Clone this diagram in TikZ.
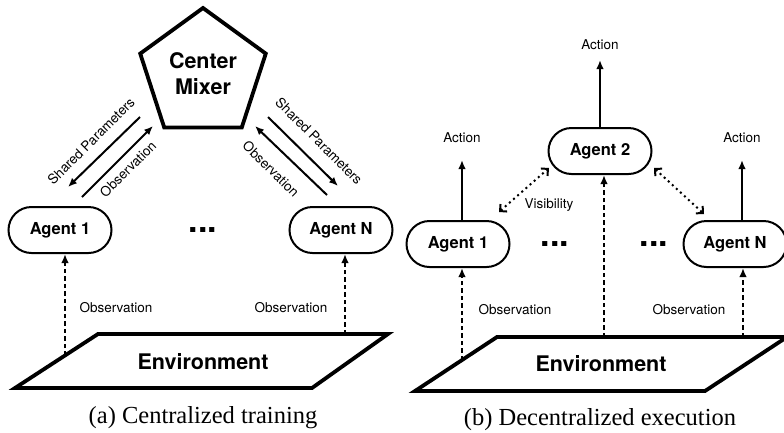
\documentclass[tikz,border=0pt]{standalone}
\usepackage{fontspec}
\setmainfont{TeX Gyre Heros}
\newfontfamily\capfont{Liberation Serif}
\usetikzlibrary{shapes.geometric,arrows.meta}

\begin{document}
\begin{tikzpicture}[x=1pt,y=-1pt,
  agent/.style={draw, line width=2pt, rounded corners=23pt, minimum width=103pt,
    minimum height=46pt, inner sep=0pt, font=\fontsize{16.5}{18}\selectfont\bfseries},
  lbl/.style={font=\fontsize{13.5}{15}\selectfont, inner sep=0pt},
  solidarr/.style={line width=2pt, -{Latex[length=9pt,width=7.5pt]}},
  obsarr/.style={line width=2pt, dash pattern=on 4.5pt off 3pt, -{Latex[length=9pt,width=7.5pt]}},
  visarr/.style={line width=2pt, dash pattern=on 2pt off 3.5pt,
    {Straight Barb[length=5pt,width=10pt,line join=miter]}-{Straight Barb[length=5pt,width=10pt,line join=miter]}},
  dots/.style={font=\fontsize{34}{34}\selectfont\bfseries, inner sep=0pt, anchor=base},
  heavy/.style={line width=3.8pt, line join=miter},
  bigtext/.style={font=\fontsize{21.5}{24}\selectfont\bfseries, inner sep=0pt},
  caption/.style={font=\capfont\fontsize{24.5}{26}\selectfont, inner sep=0pt}
]
\useasboundingbox (0,0) rectangle (784,432);

% ---------------- (a) centralized training ----------------
\node[heavy, draw, regular polygon, regular polygon sides=5, minimum size=132pt,
      inner sep=0pt, align=center, font=\fontsize{21.5}{26}\selectfont\bfseries]
      (mixer) at (203,74) {Center\\Mixer};

\node[agent] (la1) at (60,230) {Agent 1};
\node[agent] (laN) at (341,230) {Agent N};
\node[dots] (ldots) at (203,232) {...};

% environment plate
\coordinate (le1) at (98,334);
\coordinate (le2) at (388,334);
\coordinate (le3) at (312,388);
\coordinate (le4) at (15,388);
\draw[heavy] (le1) -- (le2) -- (le3) -- (le4) -- cycle;
\node[bigtext] (lenv) at (203,362) {Environment};

% mixer <-> agents
\coordinate (lspA) at (140,117);
\coordinate (lspB) at (68,187);
\coordinate (lobA) at (82,197);
\coordinate (lobB) at (153,126);
\coordinate (rspA) at (268,117);
\coordinate (rspB) at (338,186);
\coordinate (robA) at (327,195);
\coordinate (robB) at (255,126);
\draw[solidarr] (lspA) -- (lspB);
\draw[solidarr] (lobA) -- (lobB);
\draw[solidarr] (rspA) -- (rspB);
\draw[solidarr] (robA) -- (robB);
\node[lbl, rotate=45] (lspl) at (91,141) {Shared Parameters};
\node[lbl, rotate=45] (lobl) at (128,169) {Observation};
\node[lbl, rotate=-45] (rspl) at (319,141) {Shared Parameters};
\node[lbl, rotate=-45] (robl) at (271,169) {Observation};

% environment -> agents
\coordinate (lo1) at (65,355.5);
\coordinate (loN) at (345,334);
\draw[obsarr] (lo1) -- (lo1 |- la1.south);
\draw[obsarr] (loN) -- (loN |- laN.south);
\node[lbl] (lobs1) at (116,308) {Observation};
\node[lbl] (lobsN) at (291,308) {Observation};

\node[caption] (capa) at (203,418) {(a) Centralized training};

% ---------------- (b) decentralized execution ----------------
\node[agent] (ra1) at (458,244) {Agent 1};
\node[agent] (ra2) at (600,151) {Agent 2};
\node[agent] (raN) at (735,244) {Agent N};
\node[dots] (rdots1) at (555,246) {...};
\node[dots] (rdots2) at (654,246) {...};

\coordinate (re1) at (497,337);
\coordinate (re2) at (787,337);
\coordinate (re3) at (705,391);
\coordinate (re4) at (415,391);
\draw[heavy] (re1) -- (re2) -- (re3) -- (re4) -- cycle;
\node[bigtext] (renv) at (601,364) {Environment};

% actions
\node[lbl] (act2) at (600,45) {Action};
\node[lbl] (act1) at (462,138) {Action};
\node[lbl] (actN) at (742,138) {Action};
\coordinate (t2) at (600,60);
\coordinate (t1) at (462,160);
\coordinate (tN) at (742,160);
\draw[solidarr] (ra2.north) -- (t2);
\draw[solidarr] (t1 |- ra1.north) -- (t1);
\draw[solidarr] (tN |- raN.north) -- (tN);

% observations
\coordinate (ro1) at (462,360);
\coordinate (ro2) at (604,337);
\coordinate (roN) at (743,337);
\draw[obsarr] (ro1) -- (ro1 |- ra1.south);
\draw[obsarr] (ro2) -- (ro2 |- ra2.south);
\draw[obsarr] (roN) -- (roN |- raN.south);
\node[lbl] (robs1) at (515,310) {Observation};
\node[lbl] (robsN) at (689,310) {Observation};

% visibility between neighbours
\coordinate (v1a) at (499,212);
\coordinate (v1b) at (549,168);
\coordinate (v2a) at (654,168);
\coordinate (v2b) at (704,214);
\draw[visarr] (v1a) -- (v1b);
\draw[visarr] (v2a) -- (v2b);
\node[lbl] (vis) at (549,205) {Visibility};

\node[caption] (capb) at (600,420) {(b) Decentralized execution};
\end{tikzpicture}
\end{document}
